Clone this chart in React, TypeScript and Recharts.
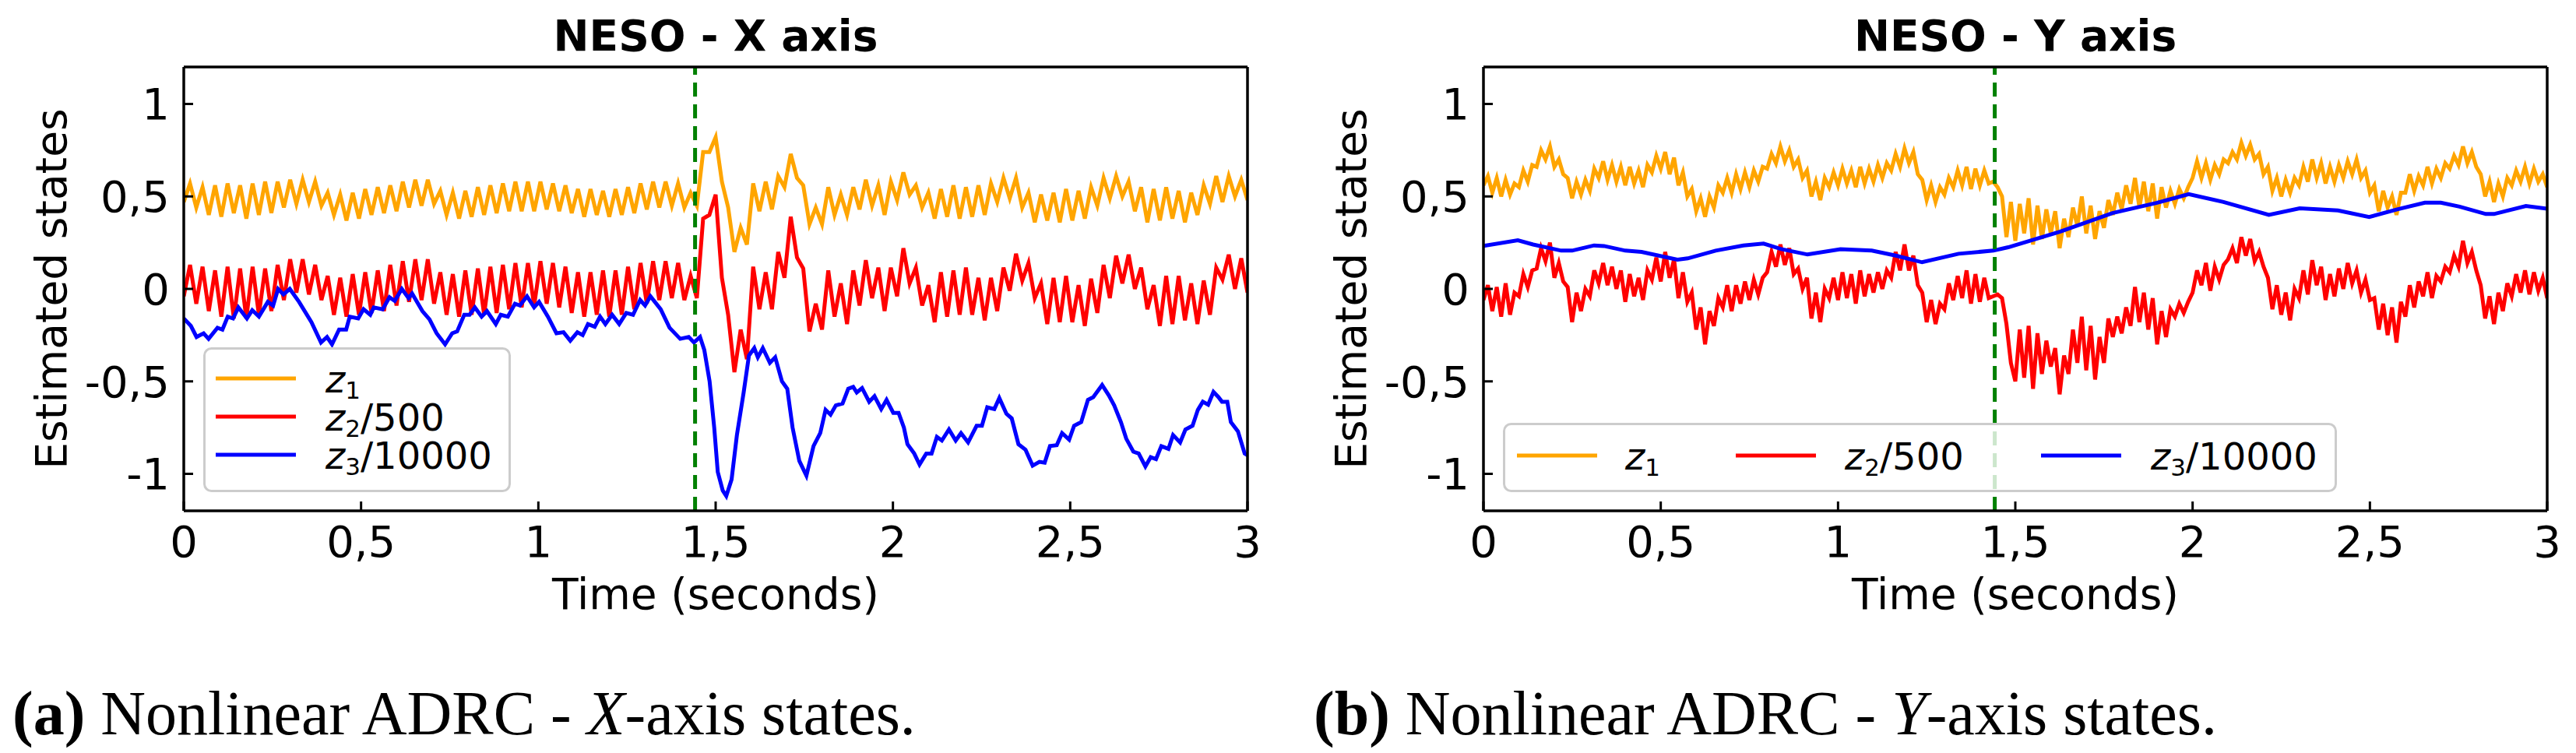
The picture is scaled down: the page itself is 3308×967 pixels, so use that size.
import { Label, Legend, Line, LineChart, ReferenceLine, XAxis, YAxis } from "recharts";

// sampling steps of the traces
const STEP_X = 3 / 170;
const STEP_Y = 0.0125;

// (a) X axis: z1, z2/500 sampled every STEP_X seconds
const z1X = [
  0.47, 0.57, 0.44, 0.55, 0.4, 0.56, 0.39, 0.57, 0.41, 0.56,
  0.38, 0.57, 0.4, 0.58, 0.41, 0.58, 0.44, 0.59, 0.46, 0.59,
  0.47, 0.58, 0.45, 0.52, 0.4, 0.51, 0.37, 0.52, 0.38, 0.54,
  0.4, 0.55, 0.41, 0.56, 0.42, 0.58, 0.44, 0.59, 0.45, 0.59,
  0.46, 0.53, 0.4, 0.52, 0.38, 0.53, 0.39, 0.55, 0.4, 0.56,
  0.41, 0.57, 0.42, 0.58, 0.42, 0.58, 0.42, 0.58, 0.43, 0.57,
  0.42, 0.56, 0.41, 0.54, 0.39, 0.54, 0.4, 0.53, 0.39, 0.54,
  0.4, 0.55, 0.41, 0.57, 0.43, 0.58, 0.44, 0.58, 0.45, 0.57,
  0.44, 0.52, 0.45, 0.74, 0.74, 0.82, 0.58, 0.44, 0.2, 0.33,
  0.24, 0.57, 0.42, 0.58, 0.43, 0.61, 0.55, 0.73, 0.6, 0.56,
  0.35, 0.44, 0.35, 0.55, 0.4, 0.51, 0.4, 0.55, 0.43, 0.59,
  0.45, 0.56, 0.4, 0.58, 0.48, 0.63, 0.51, 0.56, 0.44, 0.52,
  0.38, 0.54, 0.39, 0.56, 0.38, 0.55, 0.39, 0.56, 0.4, 0.57,
  0.47, 0.6, 0.49, 0.6, 0.44, 0.52, 0.36, 0.51, 0.37, 0.52,
  0.36, 0.54, 0.37, 0.53, 0.38, 0.55, 0.45, 0.6, 0.49, 0.61,
  0.5, 0.58, 0.42, 0.55, 0.36, 0.54, 0.37, 0.55, 0.38, 0.53,
  0.36, 0.52, 0.4, 0.56, 0.46, 0.61, 0.47, 0.61, 0.5, 0.59,
  0.48,
];

const z2X = [
  -0.04, 0.13, -0.08, 0.12, -0.12, 0.1, -0.15, 0.12, -0.16, 0.11,
  -0.16, 0.12, -0.14, 0.11, -0.12, 0.13, -0.06, 0.16, -0.02, 0.16,
  -0.03, 0.13, -0.06, 0.07, -0.14, 0.06, -0.15, 0.08, -0.14, 0.09,
  -0.13, 0.1, -0.12, 0.13, -0.09, 0.15, -0.07, 0.16, -0.06, 0.16,
  -0.08, 0.09, -0.14, 0.08, -0.15, 0.1, -0.14, 0.11, -0.14, 0.12,
  -0.13, 0.13, -0.11, 0.14, -0.1, 0.14, -0.09, 0.15, -0.08, 0.14,
  -0.1, 0.12, -0.13, 0.09, -0.15, 0.09, -0.14, 0.1, -0.15, 0.1,
  -0.14, 0.12, -0.11, 0.14, -0.08, 0.15, -0.06, 0.15, -0.05, 0.14,
  -0.06, 0.07, -0.05, 0.38, 0.4, 0.51, 0.06, -0.14, -0.45, -0.22,
  -0.38, 0.12, -0.11, 0.09, -0.11, 0.2, 0.06, 0.39, 0.17, 0.11,
  -0.23, -0.08, -0.22, 0.1, -0.15, 0.03, -0.19, 0.1, -0.09, 0.155,
  -0.05, 0.115, -0.12, 0.115, -0.04, 0.22, 0.03, 0.115, -0.09, 0.02,
  -0.18, 0.09, -0.15, 0.1, -0.14, 0.115, -0.14, 0.06, -0.17, 0.06,
  -0.12, 0.115, -0.01, 0.19, 0.045, 0.14, -0.05, 0.03, -0.19, 0.06,
  -0.18, 0.07, -0.18, 0.02, -0.2, 0.055, -0.13, 0.13, -0.05, 0.18,
  0.03, 0.185, 0.0, 0.115, -0.11, 0.02, -0.2, 0.07, -0.19, 0.07,
  -0.17, 0.03, -0.19, 0.045, -0.14, 0.115, 0.05, 0.185, 0.0, 0.165,
  -0.02,
];

// (a) X axis: z3/10000, read at its turning points
const z3XTime = [
  0, 0.02, 0.036, 0.056, 0.07, 0.095, 0.109, 0.124, 0.139, 0.154,
  0.178, 0.193, 0.212, 0.237, 0.252, 0.266, 0.281, 0.299, 0.325, 0.36,
  0.387, 0.404, 0.418, 0.438, 0.458, 0.468, 0.492, 0.507, 0.526, 0.536,
  0.561, 0.58, 0.595, 0.615, 0.634, 0.644, 0.673, 0.693, 0.713, 0.737,
  0.757, 0.771, 0.791, 0.806, 0.821, 0.84, 0.855, 0.88, 0.894, 0.914,
  0.934, 0.948, 0.968, 0.988, 1.002, 1.027, 1.051, 1.071, 1.09, 1.11,
  1.125, 1.14, 1.159, 1.174, 1.189, 1.208, 1.228, 1.248, 1.267, 1.287,
  1.301, 1.316, 1.345, 1.37, 1.4, 1.424, 1.439, 1.456, 1.468, 1.483,
  1.496, 1.506, 1.52, 1.53, 1.545, 1.56, 1.579, 1.594, 1.609, 1.619,
  1.633, 1.653, 1.668, 1.687, 1.702, 1.717, 1.736, 1.756, 1.776, 1.795,
  1.81, 1.824, 1.839, 1.858, 1.874, 1.888, 1.898, 1.913, 1.933, 1.948,
  1.967, 1.982, 2.001, 2.016, 2.031, 2.041, 2.06, 2.075, 2.094, 2.109,
  2.124, 2.138, 2.158, 2.177, 2.192, 2.212, 2.236, 2.251, 2.266, 2.286,
  2.3, 2.32, 2.335, 2.354, 2.374, 2.394, 2.413, 2.428, 2.443, 2.462,
  2.477, 2.497, 2.511, 2.531, 2.55, 2.565, 2.59, 2.609, 2.624, 2.643,
  2.658, 2.678, 2.693, 2.712, 2.727, 2.742, 2.757, 2.777, 2.79, 2.81,
  2.825, 2.845, 2.86, 2.874, 2.889, 2.904, 2.918, 2.928, 2.943, 2.953,
  2.973, 2.992, 3.0,
];
const z3X = [
  -0.16, -0.2, -0.26, -0.24, -0.27, -0.21, -0.22, -0.15, -0.16, -0.1,
  -0.16, -0.115, -0.15, -0.07, -0.09, 0.0, -0.03, 0.0, -0.07, -0.18,
  -0.29, -0.26, -0.3, -0.22, -0.22, -0.15, -0.16, -0.11, -0.14, -0.1,
  -0.11, -0.045, -0.065, 0.0, -0.05, -0.025, -0.12, -0.165, -0.24, -0.3,
  -0.24, -0.23, -0.14, -0.14, -0.1, -0.15, -0.12, -0.19, -0.14, -0.15,
  -0.08, -0.09, -0.04, -0.1, -0.07, -0.15, -0.24, -0.234, -0.28, -0.234,
  -0.25, -0.19, -0.205, -0.15, -0.19, -0.14, -0.19, -0.13, -0.14, -0.06,
  -0.09, -0.04, -0.11, -0.21, -0.27, -0.26, -0.29, -0.26, -0.33, -0.5,
  -0.75, -0.99, -1.09, -1.12, -1.03, -0.79, -0.56, -0.36, -0.32, -0.37,
  -0.32, -0.4, -0.37, -0.5, -0.54, -0.75, -0.93, -1.01, -0.85, -0.78,
  -0.654, -0.68, -0.63, -0.62, -0.54, -0.53, -0.56, -0.536, -0.61, -0.58,
  -0.65, -0.6, -0.67, -0.67, -0.75, -0.84, -0.89, -0.95, -0.89, -0.89,
  -0.8, -0.82, -0.76, -0.82, -0.78, -0.83, -0.74, -0.74, -0.64, -0.65,
  -0.59, -0.675, -0.7, -0.84, -0.87, -0.956, -0.935, -0.94, -0.85, -0.845,
  -0.78, -0.815, -0.74, -0.72, -0.6, -0.585, -0.52, -0.576, -0.63, -0.72,
  -0.81, -0.88, -0.89, -0.96, -0.91, -0.92, -0.85, -0.865, -0.79, -0.83,
  -0.76, -0.74, -0.654, -0.61, -0.626, -0.557, -0.585, -0.61, -0.61, -0.72,
  -0.77, -0.89, -0.9,
];

// (b) Y axis: z1, z2/500 sampled every STEP_Y seconds
const z1Y = [
  0.56, 0.61, 0.52, 0.6, 0.5, 0.59, 0.51, 0.57,
  0.55, 0.64, 0.58, 0.67, 0.66, 0.75, 0.7, 0.77,
  0.66, 0.7, 0.62, 0.6, 0.49, 0.58, 0.51, 0.59,
  0.53, 0.65, 0.6, 0.69, 0.59, 0.67, 0.58, 0.66,
  0.56, 0.66, 0.57, 0.64, 0.55, 0.67, 0.63, 0.72,
  0.65, 0.74, 0.62, 0.71, 0.56, 0.63, 0.5, 0.54,
  0.42, 0.49, 0.39, 0.5, 0.44, 0.56, 0.52, 0.6,
  0.52, 0.62, 0.54, 0.63, 0.55, 0.64, 0.58, 0.66,
  0.65, 0.73, 0.68, 0.77, 0.69, 0.75, 0.66, 0.7,
  0.6, 0.64, 0.5, 0.58, 0.48, 0.6, 0.55, 0.63,
  0.56, 0.65, 0.57, 0.64, 0.55, 0.66, 0.57, 0.65,
  0.58, 0.67, 0.6, 0.68, 0.64, 0.73, 0.66, 0.76,
  0.68, 0.74, 0.62, 0.59, 0.48, 0.56, 0.47, 0.55,
  0.51, 0.6, 0.55, 0.64, 0.56, 0.66, 0.54, 0.65,
  0.56, 0.64, 0.57, 0.58, 0.55, 0.5, 0.28, 0.47,
  0.26, 0.46, 0.3, 0.49, 0.24, 0.45, 0.27, 0.43,
  0.3, 0.42, 0.22, 0.38, 0.28, 0.44, 0.34, 0.5,
  0.3, 0.45, 0.27, 0.42, 0.33, 0.48, 0.4, 0.52,
  0.43, 0.56, 0.46, 0.6, 0.44, 0.58, 0.42, 0.57,
  0.38, 0.55, 0.44, 0.53, 0.46, 0.54, 0.49, 0.55,
  0.6, 0.69, 0.6, 0.68, 0.59, 0.67, 0.62, 0.7,
  0.68, 0.74, 0.7, 0.79, 0.72, 0.78, 0.7, 0.73,
  0.62, 0.66, 0.53, 0.6, 0.5, 0.59, 0.52, 0.6,
  0.56, 0.66, 0.58, 0.7, 0.6, 0.68, 0.57, 0.66,
  0.58, 0.67, 0.6, 0.69, 0.62, 0.7, 0.6, 0.64,
  0.52, 0.56, 0.42, 0.53, 0.44, 0.5, 0.4, 0.52,
  0.52, 0.62, 0.53, 0.61, 0.56, 0.66, 0.57, 0.65,
  0.6, 0.68, 0.65, 0.72, 0.67, 0.77, 0.68, 0.74,
  0.66, 0.62, 0.5, 0.58, 0.47, 0.57, 0.5, 0.6,
  0.56, 0.64, 0.58, 0.66, 0.57, 0.65, 0.58, 0.62,
  0.55,
];

const z2Y = [
  -0.06, 0.02, -0.12, 0.01, -0.15, 0.03, -0.14, -0.02,
  -0.04, 0.08, 0.01, 0.1, 0.11, 0.22, 0.15, 0.25,
  0.06, 0.14, 0.04, 0.01, -0.18, -0.02, -0.12, 0.0,
  -0.04, 0.1, 0.03, 0.14, 0.02, 0.12, 0.0, 0.1,
  -0.07, 0.08, -0.04, 0.06, -0.06, 0.1, 0.05, 0.17,
  0.04, 0.2, 0.06, 0.16, -0.05, 0.09, -0.07, -0.02,
  -0.22, -0.1, -0.3, -0.12, -0.2, -0.05, -0.1, 0.02,
  -0.12, 0.02, -0.08, 0.04, -0.06, 0.05, -0.03, 0.06,
  0.09, 0.2, 0.12, 0.24, 0.13, 0.22, 0.08, 0.11,
  0.0, 0.06, -0.16, -0.02, -0.18, 0.0, -0.05, 0.06,
  -0.06, 0.09, -0.05, 0.08, -0.08, 0.1, -0.04, 0.08,
  -0.02, 0.09, 0.0, 0.1, 0.06, 0.2, 0.1, 0.24,
  0.1, 0.18, 0.02, -0.02, -0.18, -0.06, -0.19, -0.08,
  -0.11, 0.03, -0.06, 0.07, -0.05, 0.1, -0.08, 0.08,
  -0.07, 0.06, -0.05, -0.04, -0.03, -0.05, -0.19, -0.4,
  -0.5, -0.22, -0.48, -0.2, -0.54, -0.24, -0.46, -0.28,
  -0.42, -0.32, -0.57, -0.36, -0.46, -0.22, -0.4, -0.15,
  -0.44, -0.2, -0.49, -0.26, -0.4, -0.16, -0.26, -0.15,
  -0.24, -0.1, -0.2, 0.01, -0.18, -0.02, -0.22, -0.05,
  -0.3, -0.12, -0.26, -0.11, -0.15, -0.08, -0.13, -0.07,
  -0.02, 0.1, 0.02, 0.14, -0.01, 0.12, 0.05, 0.13,
  0.16, 0.22, 0.14, 0.28, 0.18, 0.27, 0.15, 0.2,
  0.12, 0.06, -0.11, 0.02, -0.14, -0.02, -0.17, 0.0,
  -0.05, 0.1, -0.03, 0.155, 0.02, 0.12, -0.06, 0.08,
  -0.04, 0.11, 0.0, 0.14, 0.03, 0.1, -0.02, 0.05,
  -0.06, -0.05, -0.22, -0.08, -0.25, -0.1, -0.29, -0.07,
  -0.15, 0.02, -0.1, 0.04, -0.04, 0.09, -0.05, 0.07,
  0.04, 0.12, 0.09, 0.18, 0.12, 0.26, 0.14, 0.2,
  0.1, 0.02, -0.16, -0.04, -0.19, -0.02, -0.12, 0.03,
  -0.04, 0.08, -0.02, 0.1, -0.03, 0.09, -0.01, 0.06,
  -0.05,
];

// (b) Y axis: z3/10000, read at its turning points
const z3YTime = [
  0, 0.097, 0.14, 0.219, 0.25, 0.312, 0.34, 0.4, 0.446, 0.547,
  0.576, 0.655, 0.733, 0.79, 0.84, 0.914, 1.007, 1.095, 1.163, 1.237,
  1.34, 1.438, 1.48, 1.627, 1.774, 1.9, 1.989, 2.087, 2.215, 2.302,
  2.41, 2.498, 2.577, 2.655, 2.7, 2.753, 2.827, 2.85, 2.94, 3.0,
];
const z3Y = [
  0.232, 0.263, 0.24, 0.207, 0.207, 0.235, 0.232, 0.207, 0.2, 0.158,
  0.165, 0.207, 0.235, 0.245, 0.215, 0.186, 0.215, 0.207, 0.18, 0.144,
  0.19, 0.207, 0.225, 0.31, 0.41, 0.466, 0.512, 0.47, 0.4, 0.436,
  0.424, 0.389, 0.43, 0.466, 0.466, 0.445, 0.405, 0.405, 0.448, 0.434,
];

const xTicks = [0, 0.5, 1, 1.5, 2, 2.5, 3];
const yTicks = [-1, -0.5, 0, 0.5, 1];
const disturbanceTime = 1.442;

const SERIES = [
  { key: "z1", color: "#FFA500", sub: "1", suffix: "" },
  { key: "z2", color: "#FF0000", sub: "2", suffix: "/500" },
  { key: "z3", color: "#0000FF", sub: "3", suffix: "/10000" },
];

type Point = { t: number; v: number };

const sampled = (values: number[], step: number): Point[] =>
  values.map((v, i) => ({ t: i * step, v }));
const paired = (times: number[], values: number[]): Point[] =>
  values.map((v, i) => ({ t: times[i], v }));

const FONT = "DejaVu Sans";
const CHART_H = 800;
const PLOT_LEFT = 236;
const PLOT_TOP = 86;
const PLOT_W = 1366;
const PLOT_H = 570;
const PLOT_BOTTOM = PLOT_TOP + PLOT_H;

const fmt = (v: number) => String(v).replace(".", ",");

function LegendBox({ row }: { row: boolean }) {
  const w = row ? 1071 : 395;
  const h = row ? 89 : 186;
  const slots = row
    ? [
        { x: 18, y: 42, tx: 157 },
        { x: 299, y: 42, tx: 439 },
        { x: 691, y: 42, tx: 832 },
      ]
    : [
        { x: 16, y: 40, tx: 157 },
        { x: 16, y: 89, tx: 157 },
        { x: 16, y: 138, tx: 157 },
      ];
  return (
    <svg width={w} height={h} style={{ display: "block" }}>
      <rect x={1.5} y={1.5} width={w - 3} height={h - 3} rx={9} fill="#fff" fillOpacity={0.8} stroke="#cccccc" strokeWidth={3} />
      {SERIES.map((s, i) => (
        <g key={s.key}>
          <line x1={slots[i].x} x2={slots[i].x + 103} y1={slots[i].y} y2={slots[i].y} stroke={s.color} strokeWidth={5} />
          <text x={slots[i].tx} y={slots[i].y + 17.5} fontFamily={FONT} fontSize={48} fill="#000">
            <tspan fontStyle="italic">z</tspan>
            <tspan fontSize={31} dy={8}>{s.sub}</tspan>
            {s.suffix ? <tspan dy={-8}>{s.suffix}</tspan> : null}
          </text>
        </g>
      ))}
    </svg>
  );
}

interface PanelProps {
  title: string;
  left: number;
  width: number;
  lines: Point[][];
  legendRow: boolean;
}

function Panel({ title, left, width, lines, legendRow }: PanelProps) {
  const rightMargin = width - PLOT_LEFT - PLOT_W - 10;
  const axisLine = { stroke: "#000", strokeWidth: 3.5 };
  const tickLine = { stroke: "#000", strokeWidth: 3 };
  const tickStyle = { fontSize: 56, fill: "#000", fontFamily: FONT };
  return (
    <div style={{ position: "absolute", left, top: 0 }}>
      <LineChart width={width} height={CHART_H} margin={{ top: PLOT_TOP - 10, left: PLOT_LEFT - 150, right: rightMargin, bottom: CHART_H - PLOT_BOTTOM - 130 }}>
        <XAxis
          dataKey="t"
          type="number"
          domain={[0, 3]}
          ticks={xTicks}
          interval={0}
          tickFormatter={fmt}
          height={130}
          stroke="#000"
          axisLine={axisLine}
          tickLine={tickLine}
          tickSize={-12}
          tickMargin={31}
          tick={tickStyle}
          allowDataOverflow
        >
          <Label
            content={() => (
              <text x={PLOT_LEFT + PLOT_W / 2} y={782} textAnchor="middle" fontFamily={FONT} fontSize={55} fill="#000">
                Time (seconds)
              </text>
            )}
          />
        </XAxis>
        <XAxis
          xAxisId="top"
          orientation="top"
          dataKey="t"
          type="number"
          domain={[0, 3]}
          ticks={xTicks}
          interval={0}
          height={10}
          stroke="#000"
          axisLine={axisLine}
          tickLine={tickLine}
          tickSize={-12}
          tick={false}
          allowDataOverflow
        >
          <Label
            content={() => (
              <text x={PLOT_LEFT + PLOT_W / 2} y={65} textAnchor="middle" fontFamily={FONT} fontSize={55} fontWeight="bold" fill="#000">
                {title}
              </text>
            )}
          />
        </XAxis>
        <YAxis
          type="number"
          domain={[-1.2, 1.2]}
          ticks={yTicks}
          interval={0}
          tickFormatter={fmt}
          width={150}
          stroke="#000"
          axisLine={axisLine}
          tickLine={tickLine}
          tickSize={-12}
          tickMargin={30}
          tick={tickStyle}
          allowDataOverflow
        >
          <Label
            content={() => (
              <text
                x={85}
                y={PLOT_TOP + PLOT_H / 2}
                transform={`rotate(-90 85 ${PLOT_TOP + PLOT_H / 2})`}
                textAnchor="middle"
                fontFamily={FONT}
                fontSize={55}
                fill="#000"
              >
                Estimated states
              </text>
            )}
          />
        </YAxis>
        <YAxis
          yAxisId="right"
          orientation="right"
          type="number"
          domain={[-1.2, 1.2]}
          ticks={yTicks}
          interval={0}
          width={10}
          stroke="#000"
          axisLine={axisLine}
          tickLine={tickLine}
          tickSize={-12}
          tick={false}
          allowDataOverflow
        />
        {SERIES.map((s, i) => (
          <Line
            key={s.key}
            data={lines[i]}
            dataKey="v"
            name={s.key}
            type="linear"
            stroke={s.color}
            strokeWidth={5}
            dot={false}
            activeDot={false}
            isAnimationActive={false}
          />
        ))}
        <ReferenceLine x={disturbanceTime} stroke="#008000" strokeWidth={5} strokeDasharray="18 10" />
        <Legend
          layout="horizontal"
          verticalAlign="middle"
          align="center"
          wrapperStyle={
            legendRow
              ? { left: 261, top: 543, width: 1071, height: 89, right: "auto", bottom: "auto" }
              : { left: 261, top: 446, width: 395, height: 186, right: "auto", bottom: "auto" }
          }
          content={() => <LegendBox row={legendRow} />}
        />
      </LineChart>
    </div>
  );
}

export default function App() {
  return (
    <div style={{ position: "relative", width: 3308, height: 967, background: "#fff", overflow: "hidden" }}>
      <style>{"body{margin:0}"}</style>
      <svg width={3308} height={967} style={{ position: "absolute", left: 0, top: 0 }}>
        <text x={16} y={943} fontFamily="Liberation Serif" fontSize={80} fill="#000">
          <tspan fontWeight="bold">(a)</tspan>
          {" Nonlinear ADRC - "}
          <tspan fontStyle="italic">X</tspan>
          {"-axis states."}
        </text>
        <text x={1687} y={943} fontFamily="Liberation Serif" fontSize={80} fill="#000">
          <tspan fontWeight="bold">(b)</tspan>
          {" Nonlinear ADRC - "}
          <tspan fontStyle="italic">Y</tspan>
          {"-axis states."}
        </text>
      </svg>
      <Panel
        title="NESO - X axis"
        left={0}
        width={1650}
        lines={[sampled(z1X, STEP_X), sampled(z2X, STEP_X), paired(z3XTime, z3X)]}
        legendRow={false}
      />
      <Panel
        title="NESO - Y axis"
        left={1669}
        width={1639}
        lines={[sampled(z1Y, STEP_Y), sampled(z2Y, STEP_Y), paired(z3YTime, z3Y)]}
        legendRow={true}
      />
    </div>
  );
}
